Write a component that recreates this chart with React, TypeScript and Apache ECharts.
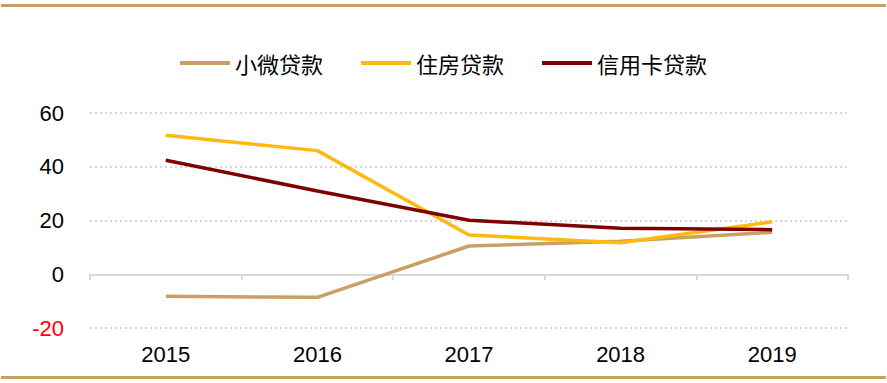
import React, { useEffect, useRef } from "react";
import * as echarts from "echarts";

const categories = ["2015", "2016", "2017", "2018", "2019"];
const seriesNames = ["小微贷款", "住房贷款", "信用卡贷款"];
const microLoans = [-8.2, -8.6, 10.5, 12.3, 15.6];
const housingLoans = [51.7, 46.0, 14.6, 11.7, 19.5];
const creditCardLoans = [42.4, 31.0, 20.1, 17.1, 16.6];
const colors = ["#C9A063", "#FFB90F", "#7F0000"];

const FONT = "'Liberation Sans', Arial, 'Noto Sans CJK SC', sans-serif";

export default function App() {
  const ref = useRef<HTMLDivElement>(null);
  useEffect(() => {
    if (!ref.current) return;
    const chart = echarts.init(ref.current, undefined, { renderer: "svg" });
    chart.setOption({
      animation: false,
      backgroundColor: "#ffffff",
      textStyle: { fontFamily: FONT },
      legend: {
        top: 47,
        left: "center",
        icon: "rect",
        itemWidth: 50,
        itemHeight: 4,
        itemGap: 38,
        textStyle: { fontSize: 22, color: "#000", fontFamily: "'Noto Sans CJK SC', sans-serif" },
        data: seriesNames,
      },
      grid: { left: 90, right: 39, top: 113, bottom: 55, containLabel: false },
      xAxis: [
        {
          type: "category",
          data: categories,
          position: "bottom",
          boundaryGap: true,
          axisLine: { show: false, onZero: false },
          axisTick: { show: false },
          axisLabel: { fontSize: 22, color: "#000", margin: 15, fontFamily: FONT },
        },
        {
          type: "category",
          data: categories,
          position: "top",
          boundaryGap: true,
          axisLine: { show: true, onZero: true, lineStyle: { color: "#d9d9d9", width: 2 } },
          axisTick: { show: true, inside: true, length: 6, lineStyle: { color: "#d9d9d9", width: 2 } },
          axisLabel: { show: false },
        },
      ],
      yAxis: {
        type: "value",
        min: -20,
        max: 60,
        interval: 20,
        axisLine: { show: false },
        axisTick: { show: false },
        axisLabel: {
          fontSize: 22,
          margin: 26,
          fontFamily: FONT,
          color: (v: any) => (Number(v) < 0 ? "#ff0000" : "#000000"),
        },
        splitLine: { lineStyle: { color: "#c8c8c8", type: [2, 3], width: 1.5 } },
      },
      series: [
        { name: seriesNames[0], type: "line", data: microLoans, xAxisIndex: 0, symbol: "none", lineStyle: { width: 3.5, color: colors[0] }, itemStyle: { color: colors[0] } },
        { name: seriesNames[1], type: "line", data: housingLoans, xAxisIndex: 0, symbol: "none", lineStyle: { width: 3.5, color: colors[1] }, itemStyle: { color: colors[1] } },
        { name: seriesNames[2], type: "line", data: creditCardLoans, xAxisIndex: 0, symbol: "none", lineStyle: { width: 3.5, color: colors[2] }, itemStyle: { color: colors[2] } },
      ],
      graphic: [
        { type: "rect", left: 1, top: 4, shape: { width: 885, height: 3 }, style: { fill: "#C9A063" } },
        { type: "rect", left: 1, top: 376, shape: { width: 885, height: 3 }, style: { fill: "#C9A063" } },
      ],
    });
    return () => chart.dispose();
  }, []);
  return (
    <div
      ref={ref}
      style={{ position: "absolute", left: 0, top: 0, width: 887, height: 383 }}
    />
  );
}
